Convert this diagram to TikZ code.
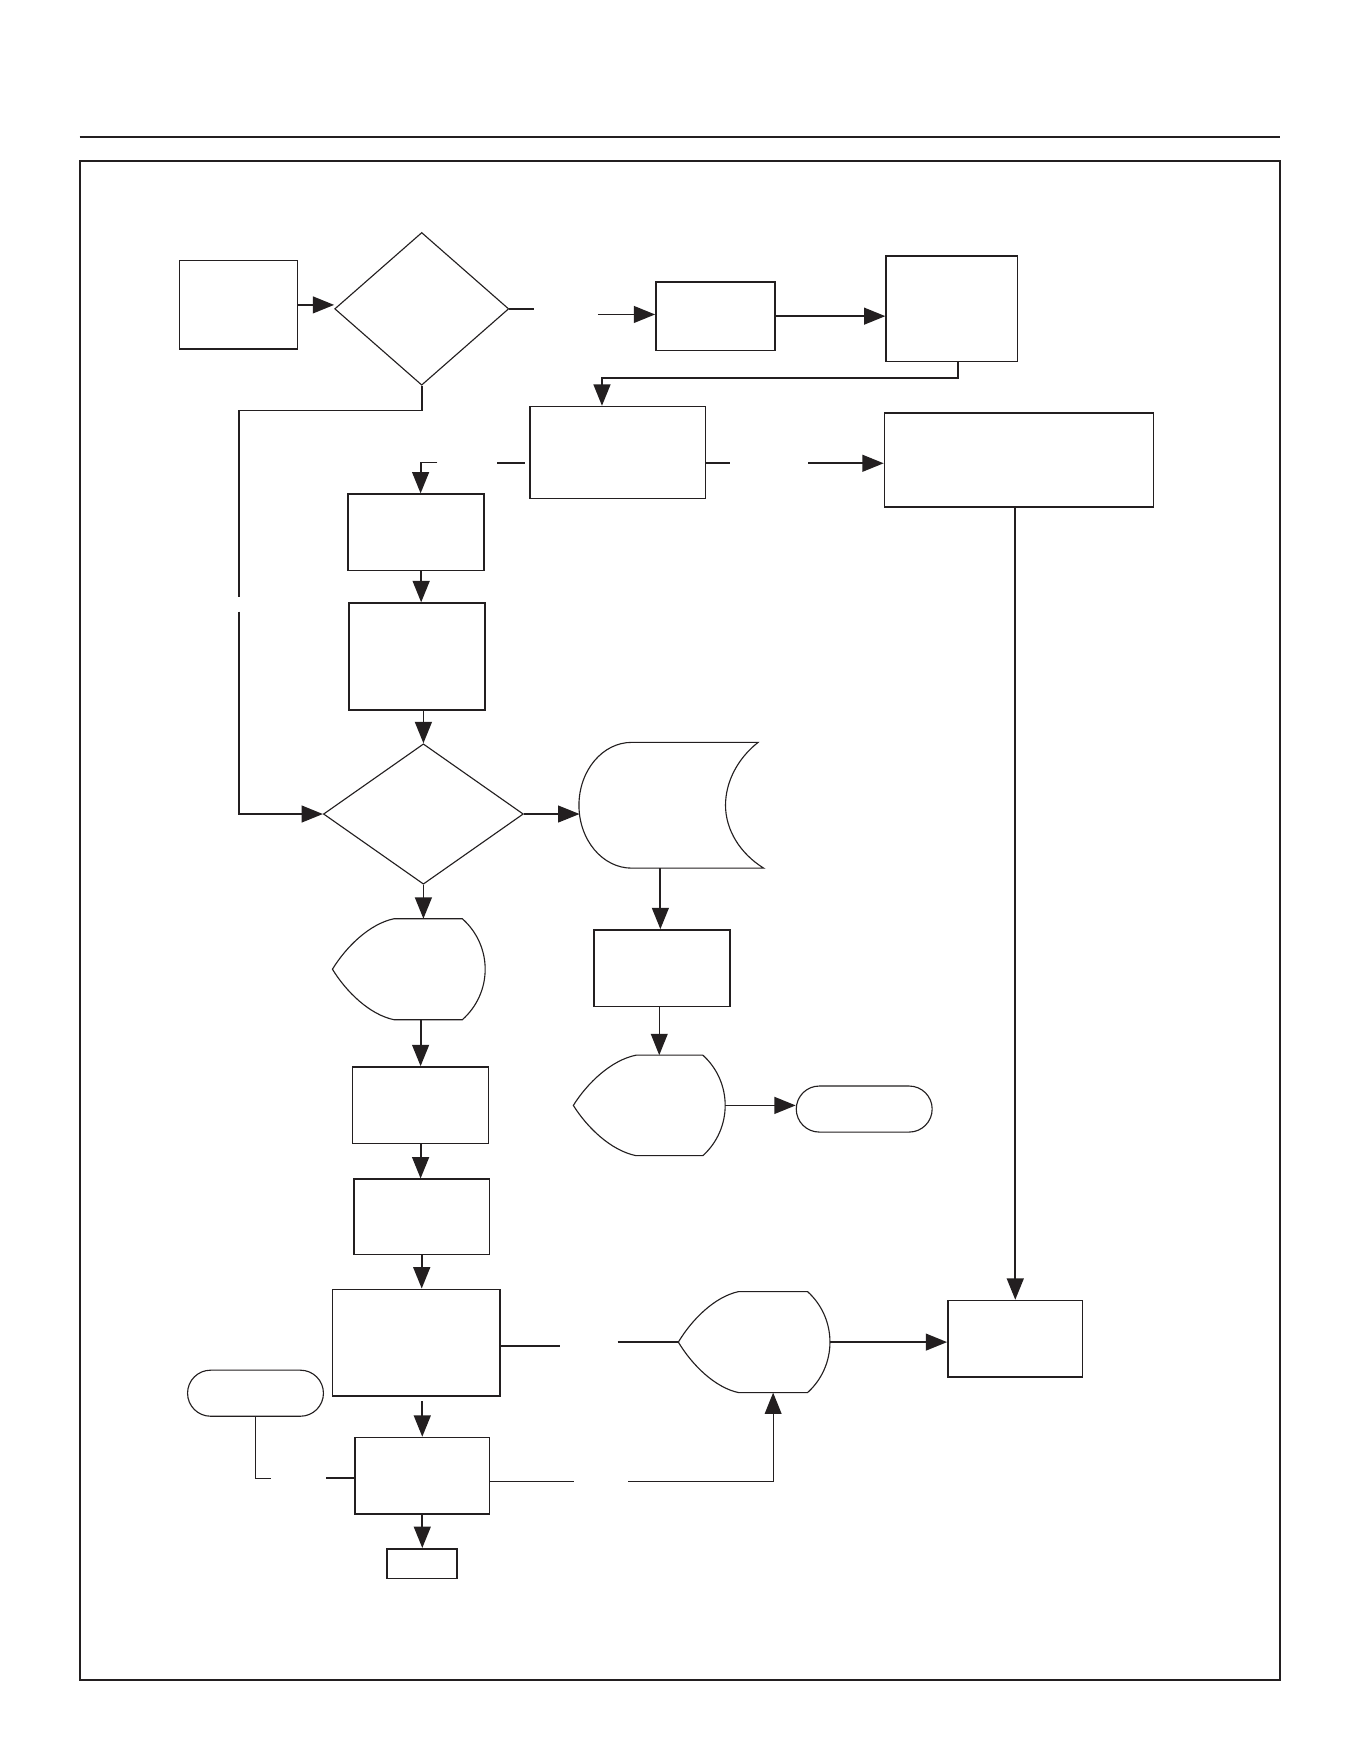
\documentclass[tikz,border=0pt]{standalone}
\usetikzlibrary{arrows.meta,shapes.geometric,shapes.misc,calc,fit}
\definecolor{ink}{RGB}{35,31,32}
% display symbol: name, x-left point, x flat left, x flat right, x right extreme, y top, y bottom
\newcommand\dispshp[7]{%
  \coordinate (#1n) at ({(#3+#4)/2},#6);
  \coordinate (#1s) at ({(#3+#4)/2},#7);
  \coordinate (#1w) at (#2,{(#6+#7)/2});
  \coordinate (#1e) at (#5,{(#6+#7)/2});
  \draw[shp] (#3,#6) -- (#4,#6)
    .. controls ({#4+0.64*(#5-#4)},{#6+0.128*(#7-#6)}) and (#5,{(#6+#7)/2-0.19*(#7-#6)}) .. (#1e)
    .. controls (#5,{(#6+#7)/2+0.19*(#7-#6)}) and ({#4+0.64*(#5-#4)},{#7-0.128*(#7-#6)}) .. (#4,#7)
    -- (#3,#7)
    .. controls ({#3-0.4*(#3-#2)},{#7-0.05*(#7-#6)}) and ({#2+0.22*(#3-#2)},{(#6+#7)/2+0.22*(#7-#6)}) .. (#1w)
    .. controls ({#2+0.22*(#3-#2)},{(#6+#7)/2-0.22*(#7-#6)}) and ({#3-0.4*(#3-#2)},{#6+0.05*(#7-#6)}) .. cycle;
}
\begin{document}
\begin{tikzpicture}[x=0.5pt,y=-0.5pt,line join=miter,
  box/.style={draw=ink,line width=0.7pt,inner sep=0pt},
  diam/.style={diamond,draw=ink,line width=0.5pt,inner sep=0pt},
  term/.style={rounded rectangle,draw=ink,line width=0.5pt,inner sep=0pt},
  shp/.style={draw=ink,line width=0.5pt},
  ln/.style={draw=ink,line width=0.8pt},
  thinln/.style={draw=ink,line width=0.55pt},
  arr/.style={ln,-{Triangle[length=9.5pt,width=7.5pt]}},
  thinarr/.style={thinln,-{Triangle[length=9.5pt,width=7.5pt]}}]
\useasboundingbox (0,0) rectangle (1212,1568);
\fill[white] (0,0) rectangle (1212,1568);
% page rule and frame
\draw[ink,line width=1.2pt] (71,122) -- (1140,122);
\draw[ink,line width=0.9pt] (71,143) rectangle (1140,1496);

% boxes
\node[box,fit={(160,232) (265,311)}] (A) {};
\node[box,fit={(584,251) (690,312)}] (B) {};
\node[box,fit={(789,228) (906,322)}] (C) {};
\node[box,fit={(472,362) (628,444)}] (E) {};
\node[box,fit={(787.5,367.5) (1027,451.5)}] (N) {};
\node[box,fit={(310,440) (431,508)}] (F) {};
\node[box,fit={(311,537) (432,632)}] (G) {};
\node[box,fit={(529,828) (650,896)}] (J) {};
\node[box,fit={(314,950) (435,1018)}] (I) {};
\node[box,fit={(315,1050) (436,1117)}] (L) {};
\node[box,fit={(296,1148) (445,1243)}] (K) {};
\node[box,fit={(844,1158) (964,1226)}] (M) {};
\node[box,fit={(316,1280) (436,1348)}] (P) {};
\node[box,fit={(344.5,1379) (407,1405.5)}] (Q) {};

% decisions
\node[diam,minimum width=77.5pt,minimum height=68pt] (D1) at (375.5,275) {};
\node[diam,minimum width=89pt,minimum height=62.5pt] (D2) at (377,724.8) {};

% terminals
\node[term,minimum width=60.5pt,minimum height=20.5pt] (T1) at (769.5,987.5) {};
\node[term,minimum width=60.5pt,minimum height=20.5pt] (T2) at (227.5,1240.5) {};

% stored data
\draw[shp] (562.5,661) -- (675,661) .. controls (656,676) and (646,697) .. (646,717)
  .. controls (646,739) and (659,760) .. (680,773) -- (562.5,773)
  .. controls (536.5,773) and (515.5,747.9) .. (515.5,717)
  .. controls (515.5,686.1) and (536.5,661) .. cycle;
\coordinate (Sw) at (516,724.8);
\coordinate (Ss) at (588,773);

% displays
\dispshp{H1}{296}{351}{411.6}{432}{818}{908}
\dispshp{H2}{510.5}{566.4}{625.8}{645.7}{939.5}{1029}
\dispshp{H3}{604}{657.8}{719}{739}{1150}{1240}

% connectors
\draw[arr] (A.east) -- (A.east -| D1.west);
\draw[ln] (D1.east) -- ++(22,0);
\draw[arr] ($(B.west)+(-51,-1.5)$) -- ($(B.west)+(0,-1.5)$);
\draw[arr] (B.east) -- (B.east -| C.west);
\draw[arr] ($(C.south)+(5.5,0)$) -- ++(0,14) -| ($(E.north)+(-14,0)$);
\draw[ln] ($(E.east)+(0,9.5)$) -- ++(21,0);
\draw[arr] ($(N.west)+(-67,3)$) -- ($(N.west)+(0,3)$);
\draw[arr] (N.south -| M.north) -- (M.north);
\draw[ln] ($(E.west)+(-4,9.5)$) -- ++(-25,0);
\draw[arr] ($(F.north)+(19,-27.5)$) -| ($(F.north)+(4,0)$);
\draw[arr] ($(F.south)+(4.5,0)$) -- ($(G.north)+(3.5,0)$);
\draw[arr] (D2.north |- G.south) -- (D2.north);
\draw[ln] (D1.south) -- ++(0,22) -- ++(-162.5,0) coordinate (lp) -- ++(0,166);
\draw[arr] ($(lp)+(0,179)$) |- (D2.west);
\draw[thinarr] (D2.east) -- (Sw);
\draw[arr] (Ss) -- (Ss |- J.north);
\coordinate (js) at ($(J.south)+(-2.5,0)$);
\draw[thinarr] (js) -- (js |- H2n);
\draw[arr] (H2e) -- (H2e -| T1.west);
\draw[arr] (D2.south) -- (D2.south |- H1n);
\draw[arr] (I.north |- H1s) -- (I.north);
\draw[arr] (I.south) -- (I.south |- L.north);
\draw[arr] (L.south) -- (L.south |- K.north);
\coordinate (kp) at ($(K.south -| P.north)+(0,4)$);
\draw[arr] (kp) -- (P.north);
\draw[ln] ($(K.east)+(0,3)$) -- ++(53,0);
\draw[ln] ($(H3w)+(-54,0)$) -- (H3w);
\draw[arr] (H3e) -- (H3e -| M.west);
\draw[thinln] ($(P.east)+(0,5)$) -- ++(74,0);
\draw[thinarr] ($(P.east)+(122.5,5)$) -| (H3s);
\draw[ln] (T2.south) -- ++(0,55) -- ++(14,0);
\draw[ln] ($(P.west)+(-25,2)$) -- ($(P.west)+(0,2)$);
\draw[arr] (P.south) -- (P.south |- Q.north);
\end{tikzpicture}
\end{document}
